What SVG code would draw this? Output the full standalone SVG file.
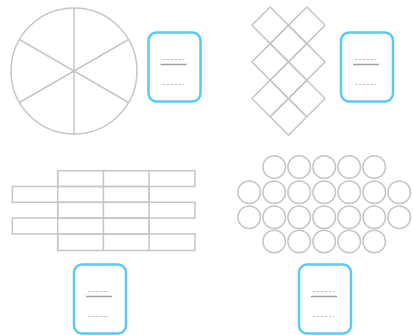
<svg xmlns="http://www.w3.org/2000/svg" width="413" height="335" viewBox="0 0 413 335">
<defs>
<style>
.shape{fill:none;stroke:#c6c6c6;stroke-width:1.5}
.card{fill:#ffffff;stroke:#5cc8f4;stroke-width:2.5}
.solid{stroke:#a0a0a0;stroke-width:1.5}
.dash{stroke:#c4c4c4;stroke-width:1;stroke-dasharray:2.5 1.5}
</style>
<g id="cardtpl">
<rect class="card" x="0" y="0" width="52" height="69" rx="8"/>
<line class="dash" x1="14" y1="27" x2="35" y2="27"/>
<line class="solid" x1="12" y1="32" x2="38" y2="32"/>
<line class="dash" x1="14" y1="52" x2="35" y2="52"/>
</g>
</defs>
<rect width="413" height="335" fill="#ffffff"/>

<g id="pie">
<circle class="shape" cx="74" cy="71" r="63"/>
<line class="shape" x1="74" y1="8" x2="74" y2="134"/>
<line class="shape" x1="19.4" y1="39.5" x2="128.6" y2="102.5"/>
<line class="shape" x1="19.4" y1="102.5" x2="128.6" y2="39.5"/>
</g>

<g id="diamonds">
<polygon class="shape" points="270.2,7 288.5,25.3 270.2,43.6 251.9,25.3"/>
<polygon class="shape" points="306.8,7 325.1,25.3 306.8,43.6 288.5,25.3"/>
<polygon class="shape" points="288.5,25.3 306.8,43.6 288.5,61.9 270.2,43.6"/>
<polygon class="shape" points="270.2,43.6 288.5,61.9 270.2,80.2 251.9,61.9"/>
<polygon class="shape" points="306.8,43.6 325.1,61.9 306.8,80.2 288.5,61.9"/>
<polygon class="shape" points="288.5,61.9 306.8,80.2 288.5,98.5 270.2,80.2"/>
<polygon class="shape" points="270.2,80.2 288.5,98.5 270.2,116.8 251.9,98.5"/>
<polygon class="shape" points="306.8,80.2 325.1,98.5 306.8,116.8 288.5,98.5"/>
<polygon class="shape" points="288.5,98.5 306.8,116.8 288.5,135.1 270.2,116.8"/>
</g>

<g id="bricks">
<rect class="shape" x="57.7" y="170.7" width="137.3" height="15.8"/>
<rect class="shape" x="12.3" y="186.5" width="136.7" height="15.8"/>
<rect class="shape" x="57.7" y="202.3" width="137.3" height="15.8"/>
<rect class="shape" x="12.3" y="218.1" width="136.7" height="15.8"/>
<rect class="shape" x="57.7" y="233.9" width="137.3" height="16.6"/>
<line class="shape" x1="57.7" y1="170.7" x2="57.7" y2="250.5"/>
<line class="shape" x1="103.4" y1="170.7" x2="103.4" y2="250.5"/>
<line class="shape" x1="149" y1="170.7" x2="149" y2="250.5"/>
</g>

<g id="circles">
<circle class="shape" cx="274.2" cy="167" r="11.3"/>
<circle class="shape" cx="299.2" cy="167" r="11.3"/>
<circle class="shape" cx="324.2" cy="167" r="11.3"/>
<circle class="shape" cx="349.2" cy="167" r="11.3"/>
<circle class="shape" cx="374.2" cy="167" r="11.3"/>
<circle class="shape" cx="249.2" cy="192.3" r="11.3"/>
<circle class="shape" cx="274.2" cy="192.3" r="11.3"/>
<circle class="shape" cx="299.2" cy="192.3" r="11.3"/>
<circle class="shape" cx="324.2" cy="192.3" r="11.3"/>
<circle class="shape" cx="349.2" cy="192.3" r="11.3"/>
<circle class="shape" cx="374.2" cy="192.3" r="11.3"/>
<circle class="shape" cx="399.2" cy="192.3" r="11.3"/>
<circle class="shape" cx="249.2" cy="217.3" r="11.3"/>
<circle class="shape" cx="274.2" cy="217.3" r="11.3"/>
<circle class="shape" cx="299.2" cy="217.3" r="11.3"/>
<circle class="shape" cx="324.2" cy="217.3" r="11.3"/>
<circle class="shape" cx="349.2" cy="217.3" r="11.3"/>
<circle class="shape" cx="374.2" cy="217.3" r="11.3"/>
<circle class="shape" cx="399.2" cy="217.3" r="11.3"/>
<circle class="shape" cx="274.2" cy="241.5" r="11.3"/>
<circle class="shape" cx="299.2" cy="241.5" r="11.3"/>
<circle class="shape" cx="324.2" cy="241.5" r="11.3"/>
<circle class="shape" cx="349.2" cy="241.5" r="11.3"/>
<circle class="shape" cx="374.2" cy="241.5" r="11.3"/>
</g>

<g id="card1"><use href="#cardtpl" x="148.5" y="32.5"/></g>
<g id="card2"><use href="#cardtpl" x="341" y="32.5"/></g>
<g id="card3"><use href="#cardtpl" x="74" y="264.5"/></g>
<g id="card4"><use href="#cardtpl" x="299" y="264.5"/></g>
<g id="connectors"></g>
</svg>
